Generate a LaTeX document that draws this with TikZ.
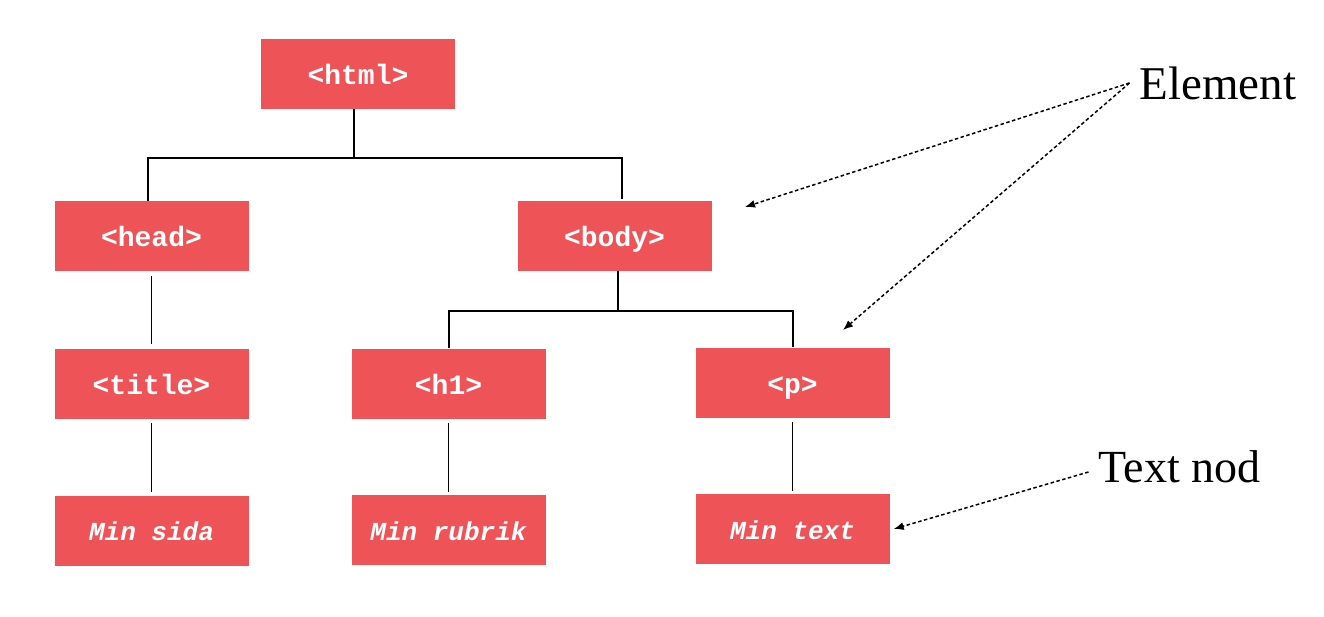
\documentclass[tikz,border=0pt]{standalone}
\usepackage{fontspec}
\setmainfont{Liberation Serif}
\newfontfamily\boxmono{Liberation Mono}
\usetikzlibrary{arrows.meta}
\definecolor{boxred}{RGB}{238,83,88}
\tikzset{
  elbox/.style={rectangle, fill=boxred, minimum width=194pt, minimum height=70pt, inner sep=0pt,
    text height=21pt, text depth=1pt,
    text=white, font=\boxmono\fontsize{28}{30}\selectfont\bfseries},
  txbox/.style={elbox, font=\boxmono\fontsize{26}{28}\selectfont\bfseries\itshape},
  tree/.style={line width=1.6pt, black},
  note/.style={inner sep=0pt, text=black},
  noteline/.style={line width=1.5pt, dash pattern=on 3.5pt off 2.5pt, -{Latex[length=10pt,width=8pt]}}
}
\begin{document}
\begin{tikzpicture}[x=1pt,y=-1pt]
\useasboundingbox (0,0) rectangle (1324,616);
\node[elbox] (html) at (358,74) {<html>};
\node[elbox] (head) at (151.5,236) {<head>};
\node[elbox] (body) at (614.5,236) {<body>};
\node[elbox] (title) at (151.5,384) {<title>};
\node[elbox] (h1) at (448.5,384) {<h1>};
\node[elbox] (p) at (792.5,383) {<p>};
\node[txbox] (sida) at (151.5,530.5) {Min sida};
\node[txbox] (rubrik) at (448.5,530) {Min rubrik};
\node[txbox] (mintext) at (792.5,529) {Min text};

\draw[tree] ([xshift=-4pt]html.south) -- ++(0,49) coordinate (hj)
  -| ([xshift=-3.5pt]head.north);
\draw[tree] (hj) -| ([xshift=7.5pt,yshift=2pt]body.north);
\draw[tree] ([xshift=3.5pt]body.south) -- ++(0,40) coordinate (bj)
  -| ([xshift=0.5pt,yshift=1pt]h1.north);
\draw[tree] (bj) -| ([xshift=0.5pt,yshift=1pt]p.north);
\draw[tree, shorten <=5pt, shorten >=5pt] (head.south) -- (title.north);
\draw[tree, shorten <=4pt, shorten >=3pt] (title.south) -- (sida.north);
\draw[tree, shorten <=4pt, shorten >=3pt] (h1.south) -- (rubrik.north);
\draw[tree, shorten <=4pt, shorten >=3pt] (p.south) -- (mintext.north);

\node[note, font=\fontsize{47}{50}\selectfont] (elem) at (1218,83) {Element};
\node[note, font=\fontsize{46}{50}\selectfont] (tnod) at (1179.5,467) {Text nod};
\coordinate (e1) at (745,207);
\coordinate (e2) at (843,330);
\draw[noteline] ([xshift=-10pt]elem.west) -- (e1);
\draw[noteline] ([xshift=-10pt]elem.west) -- (e2);
\draw[noteline] ([xshift=-10pt,yshift=-5pt]tnod.west) -- ([xshift=4pt]mintext.east);
\end{tikzpicture}
\end{document}
